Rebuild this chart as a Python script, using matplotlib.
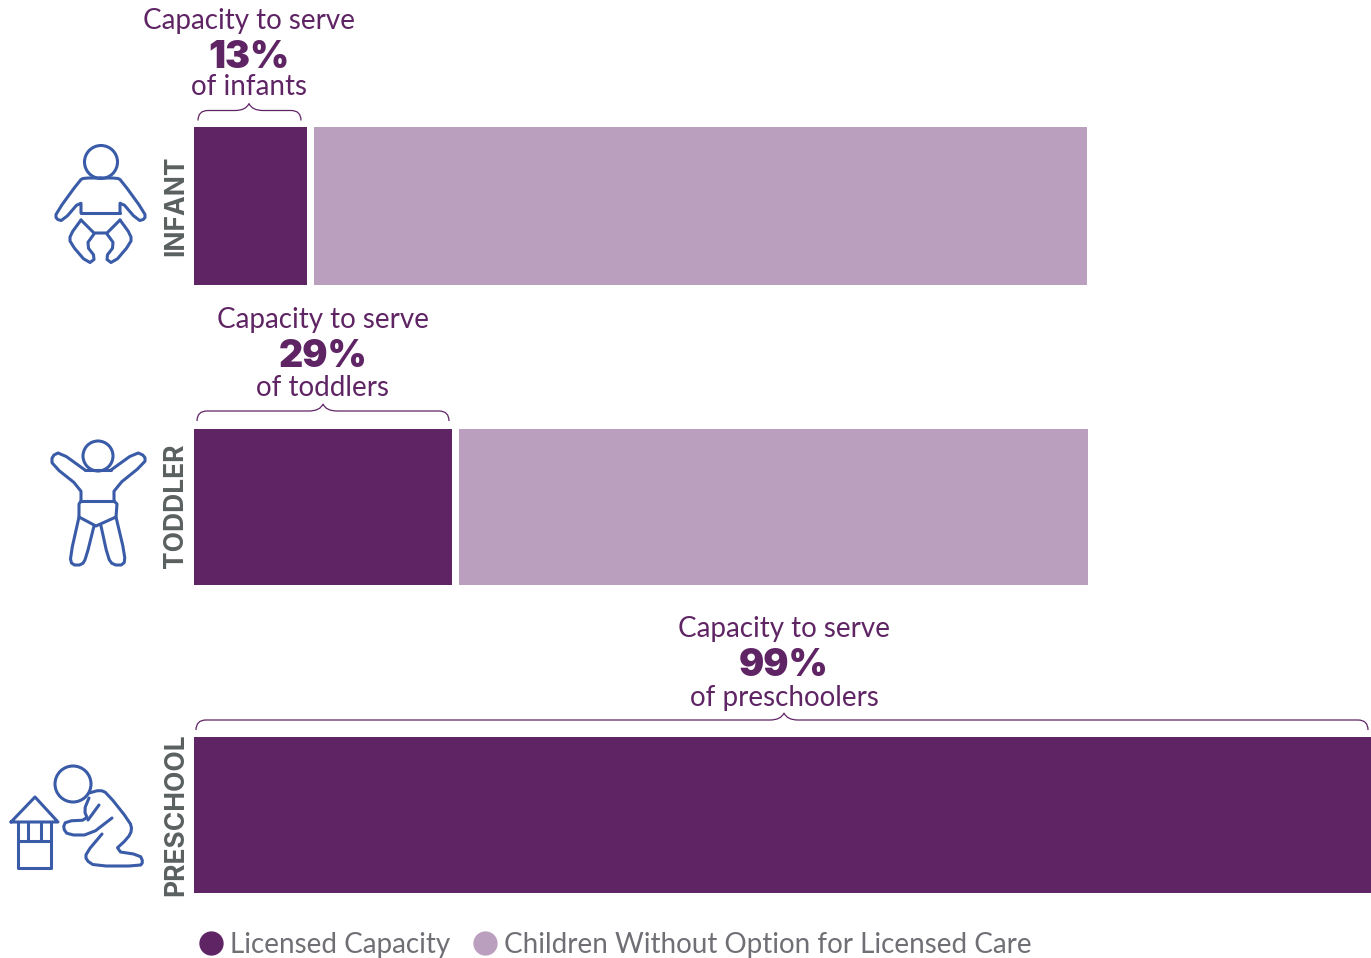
from __future__ import annotations

import matplotlib

matplotlib.use("Agg")
import matplotlib.pyplot as plt
import numpy as np
from matplotlib.lines import Line2D
from matplotlib.patches import Circle, PathPatch
from matplotlib.path import Path

DARK_COLOR = "#5f2464"
LIGHT_COLOR = "#bb9fbe"
ICON_COLOR = "#3a5ca8"
LABEL_COLOR = "#5a5f5f"
LEGEND_COLOR = "#6f6f75"

categories = ["INFANT", "TODDLER", "PRESCHOOL"]
licensed = [113, 258, 1177]
without_option = [773, 629, 0]
percent_labels = ["13%", "29%", "99%"]
group_labels = ["of infants", "of toddlers", "of preschoolers"]
legend_labels = ["Licensed Capacity", "Children Without Option for Licensed Care"]

# layout, in reference pixels
BAR_LEFT = 194
BAR_GAP = 7
BAR_CENTERS = [206, 507, 815]
BAR_HEIGHTS = [158, 156, 156]
NAME_CENTERS = [205.5, 505.5, 815]
LABEL_CENTERS = [249, 323, 784]
CAPACITY_Y = [20.5, 320, 629.5]
PERCENT_Y = [58, 357, 666]
GROUP_Y = [87, 388, 698]


def smooth(points: list[tuple[float, float]], rounds: int = 2) -> np.ndarray:
    pts = np.array(points, dtype=float)
    for _ in range(rounds):
        q = 0.75 * pts[:-1] + 0.25 * pts[1:]
        r = 0.25 * pts[:-1] + 0.75 * pts[1:]
        mid = np.empty((len(q) * 2, 2))
        mid[0::2] = q
        mid[1::2] = r
        pts = np.vstack([pts[0], mid, pts[-1]])
    return pts


def icon_line(ax: plt.Axes, points: list[tuple[float, float]], rounds: int = 1) -> None:
    pts = smooth(points, rounds) if rounds else np.array(points, dtype=float)
    ax.plot(pts[:, 0], pts[:, 1], color=ICON_COLOR, lw=2.2,
            solid_capstyle="round", solid_joinstyle="round")


def icon_head(ax: plt.Axes, x: float, y: float, r: float) -> None:
    ax.add_patch(Circle((x, y), r, fill=False, ec=ICON_COLOR, lw=2.2))


def mirrored(points: list[tuple[float, float]], axis: float) -> list[tuple[float, float]]:
    return [(2 * axis - x, y) for x, y in points]


def draw_infant(ax: plt.Axes) -> None:
    icon_head(ax, 101, 162, 16.5)
    arm = [(101, 178), (84, 178), (80, 180), (56, 213), (56, 219), (63, 221), (81, 200), (81, 213)]
    leg = [(81, 220), (70, 235), (70, 243), (88, 264), (96, 258), (86, 245), (94, 234)]
    for part in (arm, leg):
        icon_line(ax, part)
        icon_line(ax, mirrored(part, 100.5))
    icon_line(ax, [(81, 213), (120, 213)], rounds=0)
    icon_line(ax, [(81, 220), (94, 233), (107, 233), (120, 220)], rounds=0)


def draw_toddler(ax: plt.Axes) -> None:
    icon_head(ax, 98, 456, 15)
    icon_line(ax, [(85, 470), (60, 452), (52, 456), (52, 465), (81, 488), (81, 501)])
    icon_line(ax, [(111, 470), (136, 452), (145, 456), (145, 463), (114, 488), (114, 501)])
    icon_line(ax, [(85, 470), (111, 470)], rounds=0)
    icon_line(ax, [(81, 501), (114, 501)], rounds=0)
    icon_line(ax, [(81, 501), (79, 504), (79, 517), (96, 526), (116, 517), (117, 504), (114, 501)], rounds=0)
    icon_line(ax, [(79, 517), (70, 557), (72, 565), (82, 565), (86, 558), (94, 526)])
    icon_line(ax, [(101, 526), (108, 558), (113, 565), (124, 565), (125, 555), (116, 517)])


def draw_preschool(ax: plt.Axes) -> None:
    icon_head(ax, 73, 784, 18)
    icon_line(ax, [(89, 793), (100, 790), (107, 793), (130, 822), (132, 830), (128, 838), (114, 851),
                   (140, 855), (143, 862), (140, 866), (95, 866), (86, 860), (86, 853), (102, 834)])
    icon_line(ax, [(112, 818), (90, 835), (68, 835), (63, 828), (66, 821), (88, 820), (84, 810), (89, 798)])
    icon_line(ax, [(88, 820), (99, 805)], rounds=0)
    icon_line(ax, [(11, 822), (35, 797), (58, 822), (11, 822)], rounds=0)
    icon_line(ax, [(18, 822), (18, 868), (51, 868), (51, 822)], rounds=0)
    icon_line(ax, [(18, 841), (51, 841)], rounds=0)
    icon_line(ax, [(28, 822), (28, 841)], rounds=0)
    icon_line(ax, [(41, 822), (41, 841)], rounds=0)


def draw_brace(ax: plt.Axes, x0: float, x1: float, tip_x: float, y_bottom: float) -> None:
    y_line = y_bottom - 10
    y_tip = y_line - 7
    verts = [
        (x0, y_bottom), (x0, y_line), (x0 + 10, y_line),
        (tip_x - 14, y_line), (tip_x - 3, y_line), (tip_x, y_tip),
        (tip_x + 3, y_line), (tip_x + 14, y_line), (x1 - 10, y_line),
        (x1, y_line), (x1, y_bottom),
    ]
    codes = [Path.MOVETO, Path.CURVE3, Path.CURVE3, Path.LINETO, Path.CURVE3, Path.CURVE3,
             Path.CURVE3, Path.CURVE3, Path.LINETO, Path.CURVE3, Path.CURVE3]
    ax.add_patch(PathPatch(Path(verts, codes), fill=False, ec=DARK_COLOR, lw=0.9))


fig = plt.figure(figsize=(13.71, 9.58), dpi=100, facecolor="white")
ax = fig.add_axes([0, 0, 1, 1])
ax.set_xlim(0, 1371)
ax.set_ylim(958, 0)
ax.axis("off")

ax.barh(BAR_CENTERS, licensed, height=BAR_HEIGHTS, left=BAR_LEFT, color=DARK_COLOR)
rest_left = [BAR_LEFT + value + BAR_GAP for value in licensed]
ax.barh(BAR_CENTERS, without_option, height=BAR_HEIGHTS, left=rest_left, color=LIGHT_COLOR)

braces = [(198, 301, 120.5), (197, 449, 421), (196, 1368, 730)]
for i, name in enumerate(categories):
    center = LABEL_CENTERS[i]
    ax.text(center, CAPACITY_Y[i], "Capacity to serve", ha="center", va="center", color=DARK_COLOR,
            family="Lato", fontsize=20)
    ax.text(center, PERCENT_Y[i], percent_labels[i], ha="center", va="center", color=DARK_COLOR,
            family="Inter", weight="black", fontsize=27)
    ax.text(center, GROUP_Y[i], group_labels[i], ha="center", va="center", color=DARK_COLOR,
            family="Lato", fontsize=20)
    draw_brace(ax, braces[i][0], braces[i][1], center, braces[i][2])
    ax.text(176, NAME_CENTERS[i], name, rotation=90, ha="center", va="center", color=LABEL_COLOR,
            family="Inter", weight="bold", fontsize=19)

draw_infant(ax)
draw_toddler(ax)
draw_preschool(ax)

handles = [
    Line2D([], [], ls="", marker="o", ms=16.5, color=DARK_COLOR),
    Line2D([], [], ls="", marker="o", ms=16.5, color=LIGHT_COLOR),
]
legend = ax.legend(handles, legend_labels, ncol=2, frameon=False, loc="center left",
                   bbox_to_anchor=(198 / 1371, 1 - 945 / 958), prop={"family": "Lato", "size": 20},
                   handlelength=0.9, handletextpad=0.25, columnspacing=0.8, borderpad=0, borderaxespad=0)
for text in legend.get_texts():
    text.set_color(LEGEND_COLOR)

fig.savefig("out.png", dpi=100)
